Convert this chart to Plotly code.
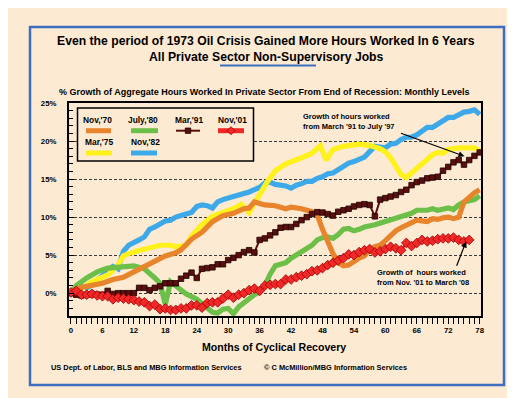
import plotly.graph_objects as go

# ---------------- data ----------------
nov70_x = [0, 1, 3, 6, 8, 10, 12, 14, 16, 18, 20, 21, 23, 25, 27, 29, 31, 33, 34, 35, 36, 37, 39, 41, 42, 44, 46, 47,
           48, 49, 50, 51, 52, 53, 54, 55, 56, 57, 58, 59, 60, 61, 62, 63, 64, 65, 66, 67, 68, 69, 70, 71, 72, 73, 74,
           75, 76, 77, 78]
nov70_y = [0, 0.6, 0.9, 1.3, 1.8, 2.1, 2.8, 3.5, 4.2, 4.9, 5.3, 5.7, 7.1, 8.0, 9.4, 10.2, 10.5, 11.1, 11.2, 12.0, 11.8,
           11.6, 11.5, 11.1, 11.3, 11.1, 10.7, 10.3, 8.4, 6.6, 5.2, 4.0, 3.6, 3.7, 4.2, 4.6, 4.9, 5.7, 6.1, 6.3, 6.9,
           7.6, 8.2, 8.6, 8.9, 9.2, 9.6, 9.5, 9.4, 9.8, 9.7, 9.9, 10.0, 9.8, 10.0, 12.0, 12.7, 13.2, 13.6]

mar75_x = [0, 2, 4, 6, 7, 8, 9, 10, 11, 13, 15, 17, 19, 20, 22, 23, 25, 27, 29, 31, 32.5, 34, 35.5, 36.5, 37.5, 39, 41,
           44, 46, 47.6, 48.7, 50, 52, 55, 57, 59, 60, 61, 62, 63, 64, 65, 67, 69, 70, 71, 72, 74, 76, 77, 78]
mar75_y = [0, 0.6, 1.5, 2.2, 2.4, 3.0, 3.7, 4.9, 5.2, 5.6, 5.9, 6.3, 6.3, 6.1, 6.3, 7.5, 9.0, 10.1, 10.6, 11.1, 11.7,
           10.6, 12.4, 13.6, 14.7, 16.1, 17.0, 17.8, 18.4, 19.4, 17.5, 18.9, 19.3, 19.6, 19.4, 19.0,
           18.6, 17.8, 16.8, 15.6, 15.2, 15.8, 17.0, 18.2, 18.5, 18.4, 18.9, 19.1, 19.1, 19.1, 18.7]

jul80_x = [0, 1, 3, 5, 7, 9, 11, 12, 14, 15, 16, 17, 18, 19, 20, 22, 24, 25, 26, 27, 28, 29, 30, 31, 32, 33, 34, 35, 36,
           37, 38, 39, 40, 41, 42, 44, 46, 47, 48, 49, 50, 51, 52, 53, 54, 55, 56, 58, 60, 62, 63, 65, 66, 68, 69, 70,
           72, 73, 74, 75, 77, 78]
jul80_y = [0, 1.0, 2.0, 2.8, 3.3, 3.4, 3.5, 3.6, 3.2, 2.7, 2.0, 1.3, -1.5, 1.5, 0.9, -0.1, -0.8, -1.4, -2.1, -2.5,
           -2.6, -2.1, -2.0, -2.7, -1.8, -1.2, -0.8, -0.2, 0.2, 1.0, 2.5, 3.6, 3.8, 4.0, 4.6, 5.5, 6.3, 7.0, 7.3, 7.4,
           7.2, 7.7, 8.4, 8.5, 8.2, 8.4, 8.7, 9.0, 9.4, 9.8, 10.0, 10.5, 10.9, 10.9, 11.1, 10.9, 11.2, 11.0, 11.6,
           12.0, 12.3, 12.8]

nov82_x = [0, 1, 2, 3, 4, 5, 6, 7, 8, 9, 10, 11, 12, 13, 14, 15, 16, 17, 18, 19, 20, 21, 22, 23, 24, 25, 26, 27, 28,
           29, 31, 33, 34, 35, 36, 37, 38, 39, 40, 41, 42, 43, 44, 45, 46, 47, 48, 49, 50, 51, 52, 53, 54, 55, 56, 57,
           58, 59, 60, 61, 62, 63, 64, 65, 66, 67, 68, 69, 70, 71, 72, 73, 74, 75, 76, 77, 78]
nov82_y = [0, 0.6, 0.9, 0.7, 1.1, 1.7, 2.4, 3.0, 3.5, 3.2, 5.5, 6.3, 6.6, 7.0, 7.4, 8.4, 8.7, 9.2, 9.5, 9.6, 10.0,
           10.2, 10.4, 10.6, 11.4, 11.6, 11.5, 11.2, 12.0, 12.3, 12.7, 13.0, 13.3, 13.6, 13.9, 14.5, 14.6, 14.3, 14.2,
           14.1, 13.8, 14.2, 14.4, 14.7, 14.7, 15.1, 15.3, 15.7, 15.8, 16.3, 16.6, 17.1, 17.3, 17.6, 17.9, 18.6, 19.3,
           19.2, 19.1, 19.6, 19.7, 20.2, 20.5, 20.5, 20.8, 21.3, 21.8, 21.8, 22.2, 22.7, 23.1, 23.1, 23.5, 23.8, 23.9,
           24.1, 23.5]

mar91_y = [0, -0.2, -0.3, -0.2, -0.1, -0.2, -0.2, 0.3, -0.1, 0.0, 0.0, 0.0, 0.0, 0.7, 0.7, 0.4, 0.7, 0.9, 1.3, 1.3,
           1.3, 1.9, 2.3, 2.7, 2.0, 3.2, 3.3, 3.4, 3.8, 3.8, 4.35, 4.65, 5.0, 5.4, 5.65, 5.35, 7.0, 7.2, 7.6, 8.0, 8.6,
           8.7, 8.7, 9.1, 9.6, 10.0, 10.4, 10.65, 10.6, 10.4, 10.2, 10.7, 10.9, 11.1, 11.4, 11.6, 11.7, 11.6, 10.1,
           12.3, 12.5, 12.7, 12.9, 13.3, 13.6, 14.2, 14.6, 14.8, 15.1, 15.2, 15.3, 16.1, 16.6, 17.2, 17.5, 16.9, 17.5,
           18.05, 18.5]
mar91_x = list(range(len(mar91_y)))

nov01_y = [0.1, 0.3, -0.2, -0.2, -0.1, -0.3, -0.4, -0.4, -0.8, -0.6, -0.7, -0.8, -0.9, -1.1, -1.2, -1.7, -1.5, -2.1,
           -2.0, -2.2, -2.2, -2.0, -2.0, -1.6, -1.6, -1.9, -1.3, -1.2, -1.2, -0.7, -0.2, -0.6, -0.2, 0.0, 0.4, 0.6, 0.3,
           1.0, 1.1, 1.2, 1.2, 1.8, 1.8, 2.1, 2.3, 2.5, 2.9, 3.0, 3.3, 3.7, 4.0, 4.3, 4.6, 5.1, 5.0, 5.4, 5.65, 5.8,
           5.35, 5.5, 5.8, 6.1, 5.9, 5.65, 6.6, 6.2, 6.6, 7.0, 6.8, 6.9, 7.1, 7.2, 7.2, 7.3, 7.0, 6.8, 7.0]
nov01_x = list(range(len(nov01_y)))

x_ticks = list(range(0, 79, 6))
y_ticks = [0, 5, 10, 15, 20, 25]
y_tick_labels = [f"{v}%" for v in y_ticks]

title1 = "Even the period of 1973 Oil Crisis Gained More Hours Worked In 6 Years"
title2 = "All Private Sector Non-Supervisory Jobs"
subtitle = "% Growth of Aggregate Hours Worked In Private Sector From End of Recession: Monthly Levels"
x_title = "Months of Cyclical Recovery"
source1 = "US Dept. of Labor, BLS and MBG Information Services"
source2 = "© C McMillion/MBG Information Services"
note1 = "Growth of hours worked<br>from March '91 to July '97"
note2 = "Growth of  hours worked<br>from Nov. '01 to March '08"

# ---------------- styling ----------------
BG = "#FDEAD2"
BORDER = "#3D6EBF"
FONT = "Liberation Sans, Arial, sans-serif"
C_ORANGE = "#E8842C"
C_YELLOW = "#FFF21C"
C_GREEN = "#6CC04A"
C_BLUE = "#3EA9E8"
C_BROWN = "#5A0E0E"
C_RED = "#F02828"

W, H = 515, 398
L, R, T, B = 61, 42, 95, 90
PW, PH = W - L - R, H - T - B


def px(p):
    return (p - L) / PW


def py(p):
    return (H - B - p) / PH


fig = go.Figure()

thick = [("Nov,'82", nov82_x, nov82_y, C_BLUE),
         ("Mar,'75", mar75_x, mar75_y, C_YELLOW),
         ("July,'80", jul80_x, jul80_y, C_GREEN),
         ("Nov,'70", nov70_x, nov70_y, C_ORANGE)]
for name, xs, ys, col in thick:
    fig.add_trace(go.Scatter(x=xs, y=ys, name=name, mode="lines",
                             line=dict(color=col, width=5.2), showlegend=False))

fig.add_trace(go.Scatter(x=mar91_x, y=mar91_y, name="Mar,'91", mode="lines+markers",
                         line=dict(color=C_BROWN, width=2),
                         marker=dict(symbol="square", size=5.5, color=C_BROWN,
                                     line=dict(color="#200000", width=0.8)),
                         showlegend=False))
fig.add_trace(go.Scatter(x=nov01_x, y=nov01_y, name="Nov,'01", mode="lines+markers",
                         line=dict(color=C_RED, width=2.5),
                         marker=dict(symbol="diamond", size=7.5, color=C_RED,
                                     line=dict(color="#A00000", width=0.8)),
                         showlegend=False))

shapes = []
annotations = []

# outer blue frame
shapes.append(dict(type="rect", xref="paper", yref="paper", x0=px(22), x1=px(496), y0=py(377), y1=py(19),
                   line=dict(color=BORDER, width=2.5), layer="below"))
# underline under title line 2
shapes.append(dict(type="line", xref="paper", yref="paper", x0=px(212), x1=px(308), y0=py(57.5), y1=py(57.5),
                   line=dict(color=BORDER, width=2)))

# titles
annotations.append(dict(text=title1, xref="paper", yref="paper", x=px(258), y=py(33.5), showarrow=False,
                        xanchor="center", yanchor="middle",
                        font=dict(family=FONT, size=12.2, color="black", weight="bold")))
annotations.append(dict(text=title2, xref="paper", yref="paper", x=px(258), y=py(48.5), showarrow=False,
                        xanchor="center", yanchor="middle",
                        font=dict(family=FONT, size=12.2, color="black", weight="bold")))
annotations.append(dict(text=subtitle, xref="paper", yref="paper", x=px(256), y=py(83.5), showarrow=False,
                        xanchor="center", yanchor="middle",
                        font=dict(family=FONT, size=9, color="black", weight="bold")))
annotations.append(dict(text=x_title, xref="paper", yref="paper", x=px(266), y=py(338.5), showarrow=False,
                        xanchor="center", yanchor="middle",
                        font=dict(family=FONT, size=10.6, color="black", weight="bold")))
annotations.append(dict(text=source1, xref="paper", yref="paper", x=px(41), y=py(359), showarrow=False,
                        xanchor="left", yanchor="middle",
                        font=dict(family=FONT, size=7.4, color="black", weight="bold")))
annotations.append(dict(text=source2, xref="paper", yref="paper", x=px(254), y=py(359), showarrow=False,
                        xanchor="left", yanchor="middle",
                        font=dict(family=FONT, size=7.4, color="black", weight="bold")))

# arrows + notes
annotations.append(dict(text=note1, x=43.9, y=22.6, xref="x", yref="y", showarrow=False, xanchor="left",
                        yanchor="middle", align="left",
                        font=dict(family=FONT, size=7.5, color="black", weight="bold")))
annotations.append(dict(text="", x=75.1, y=18.0, ax=62.7, ay=21.1, xref="x", yref="y", axref="x", ayref="y",
                        showarrow=True, arrowhead=2, arrowsize=1, arrowwidth=1.2, arrowcolor="black"))
annotations.append(dict(text=note2, x=58.0, y=2.1, xref="x", yref="y", showarrow=False, xanchor="left",
                        yanchor="middle", align="left",
                        font=dict(family=FONT, size=7.5, color="black", weight="bold")))
annotations.append(dict(text="", x=75.4, y=6.8, ax=73.5, ay=3.4, xref="x", yref="y", axref="x", ayref="y",
                        showarrow=True, arrowhead=2, arrowsize=1, arrowwidth=1.2, arrowcolor="black"))

# custom legend box
shapes.append(dict(type="rect", xref="paper", yref="paper", x0=px(69.5), x1=px(245.5), y0=py(153), y1=py(100),
                   line=dict(color="black", width=1.5), fillcolor=BG, layer="above"))
legend_items = [
    ("Nov,'70", C_ORANGE, 89.5, 111.7, 78, 103, 122.7, None),
    ("July,'80", C_GREEN, 135, 111.7, 123, 150, 122.7, None),
    ("Mar,'91", C_BROWN, 181, 111.7, 168, 192, 122.7, "square"),
    ("Nov,'01", C_RED, 224, 111.7, 210, 236, 122.7, "diamond"),
    ("Mar,'75", C_YELLOW, 91, 134.3, 78, 104, 145, None),
    ("Nov,'82", C_BLUE, 137.5, 134.3, 123, 149, 145, None),
]
for lab, col, tx, ty, sx0, sx1, sy, mk in legend_items:
    annotations.append(dict(text=lab, xref="paper", yref="paper", x=px(tx), y=py(ty), showarrow=False,
                            xanchor="center", yanchor="middle",
                            font=dict(family=FONT, size=8.4, color="black", weight="bold")))
    lw = 2 if mk == "square" else 5
    shapes.append(dict(type="line", xref="paper", yref="paper", x0=px(sx0), x1=px(sx1), y0=py(sy), y1=py(sy),
                       line=dict(color=col, width=lw), layer="above"))
    cx = (sx0 + sx1) / 2
    if mk == "square":
        shapes.append(dict(type="rect", xref="paper", yref="paper", x0=px(cx - 2.7), x1=px(cx + 2.7),
                           y0=py(sy + 2.7), y1=py(sy - 2.7), fillcolor=C_BROWN,
                           line=dict(color="#200000", width=0.8), layer="above"))
    elif mk == "diamond":
        shapes.append(dict(type="path", xref="paper", yref="paper",
                           path=f"M {px(cx)} {py(sy - 4)} L {px(cx + 4)} {py(sy)} L {px(cx)} {py(sy + 4)} "
                                f"L {px(cx - 4)} {py(sy)} Z",
                           fillcolor=C_RED, line=dict(color="#A00000", width=0.8), layer="above"))

fig.update_layout(
    width=W, height=H,
    margin=dict(l=L, r=R, t=T, b=B, pad=0),
    paper_bgcolor=BG, plot_bgcolor=BG,
    showlegend=False,
    shapes=shapes, annotations=annotations,
    font=dict(family=FONT, color="black"),
)

fig.update_xaxes(
    range=[-0.38, 78.25], tickvals=x_ticks, ticktext=[str(v) for v in x_ticks],
    ticks="outside", ticklen=6, tickwidth=1, tickcolor="black",
    minor=dict(dtick=1, tick0=0, ticks="outside", ticklen=6, tickwidth=1, tickcolor="black", showgrid=False),
    showgrid=False, zeroline=False,
    showline=True, linecolor="black", linewidth=2, mirror=True,
    tickfont=dict(family=FONT, size=7.8, color="black", weight="bold"),
)
fig.update_yaxes(
    range=[-3, 25], tickvals=y_ticks, ticktext=y_tick_labels,
    ticks="inside", ticklen=5, tickwidth=1, tickcolor="black",
    minor=dict(dtick=1, tick0=0, ticks="inside", ticklen=4, tickwidth=1, tickcolor="black", showgrid=False),
    showgrid=True, gridcolor="#3a3a3a", griddash="3px,2px", gridwidth=1,
    zeroline=False,
    showline=True, linecolor="black", linewidth=2, mirror=True,
    ticklabelstandoff=9,
    tickfont=dict(family=FONT, size=7.8, color="black", weight="bold"),
)

fig.write_html("out.html")
